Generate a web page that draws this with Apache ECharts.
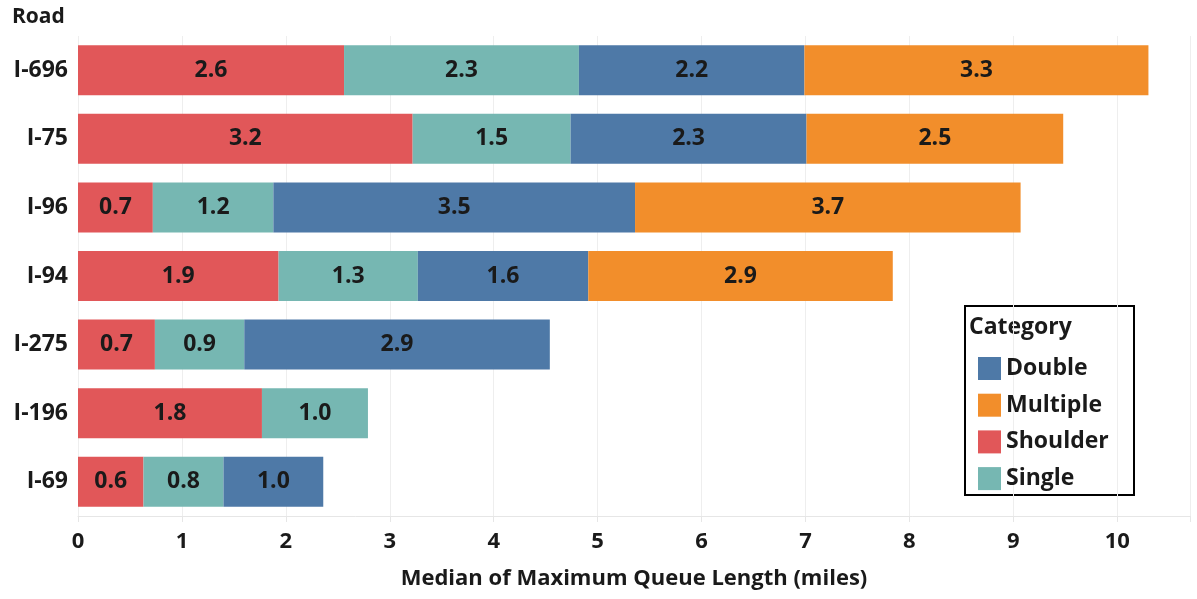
<!DOCTYPE html>
<html><head><meta charset="utf-8">
<script src="https://cdn.jsdelivr.net/npm/echarts@6/dist/echarts.min.js"></script>
<style>html,body{margin:0;padding:0;background:#fff}#c{width:1197px;height:599px}</style>
</head><body><div id="c"></div>
<script>
const roads = ['I-696','I-75','I-96','I-94','I-275','I-196','I-69'];
const shoulder = [2.56, 3.22, 0.72, 1.93, 0.74, 1.77, 0.63];
const single   = [2.26, 1.52, 1.16, 1.34, 0.86, 1.02, 0.77];
const double   = [2.17, 2.27, 3.48, 1.64, 2.94, null, 0.96];
const multiple = [3.31, 2.47, 3.71, 2.93, null, null, null];
const xTicks = [0,1,2,3,4,5,6,7,8,9,10];

const FONT = 'Open Sans';
const chart = echarts.init(document.getElementById('c'));
const lbl = {show:true, position:'inside', color:'#1a1a1a', fontFamily:FONT, fontWeight:'bold', fontSize:23,
  formatter: p => p.value == null ? '' : p.value.toFixed(1)};
function s(name, data, color){
  return {name, type:'bar', stack:'t', data, barWidth:50, itemStyle:{color}, label:lbl, emphasis:{disabled:true}};
}
chart.setOption({
  animation:false,
  grid:{left:78, right:7, top:36, bottom:83},
  xAxis:{type:'value', min:0, max:10.7, interval:1,
    name:'Median of Maximum Queue Length (miles)', nameLocation:'middle', nameGap:52,
    nameTextStyle:{fontFamily:FONT, fontWeight:'bold', fontSize:22, color:'#1a1a1a'},
    axisLine:{show:true, lineStyle:{color:'#e6e6e6'}}, axisTick:{show:true, length:6, lineStyle:{color:'#e6e6e6'}},
    splitLine:{show:true, lineStyle:{color:'#eeeeee'}},
    axisLabel:{fontFamily:FONT, fontWeight:'bold', fontSize:22, color:'#1a1a1a', margin:15,
      formatter: v => xTicks.includes(v) ? String(v) : ''}
  },
  yAxis:{type:'category', data:roads, inverse:true,
    axisLine:{show:false}, axisTick:{show:false},
    axisLabel:{fontFamily:FONT, fontWeight:'bold', fontSize:23, color:'#1a1a1a', margin:10}
  },
  legend:{orient:'vertical', left:973, top:352, itemWidth:23, itemHeight:23, itemGap:13.7,
    data:['Double','Multiple','Shoulder','Single'], icon:'rect',
    textStyle:{fontFamily:FONT, fontWeight:'bold', fontSize:23, color:'#1a1a1a', padding:[0,0,0,0], lineHeight:23}
  },
  graphic:[
    {type:'rect', shape:{x:965, y:306, width:169, height:189}, style:{fill:'#fff', stroke:'#000', lineWidth:2}, z:-1},
    {type:'text', left:969, top:316, style:{text:'Category', font:'bold 23px "Open Sans"', fill:'#1a1a1a'}},
    {type:'text', left:12, top:7, style:{text:'Road', font:'bold 21px "Open Sans"', fill:'#1a1a1a'}}
  ],
  series:[
    s('Shoulder', shoulder, '#E15759'),
    s('Single', single, '#76B7B2'),
    s('Double', double, '#4E79A7'),
    s('Multiple', multiple, '#F28E2B')
  ]
});
</script></body></html>
